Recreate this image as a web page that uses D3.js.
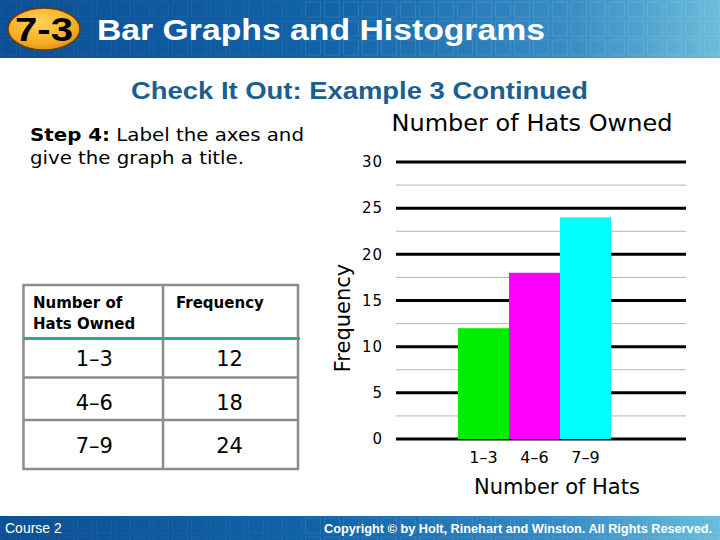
<!DOCTYPE html>
<html>
<head>
<meta charset="utf-8">
<script src="https://cdn.jsdelivr.net/npm/d3@7"></script>
<style>
html,body{margin:0;padding:0;background:#fff;}
svg{display:block;}
</style>
</head>
<body>
<script>
// ---- data ----
const categories = ["1–3", "4–6", "7–9"];
const frequencies = [12, 18, 24];
const barColors = ["#00ee00", "#ff00ff", "#00ffff"];
const yTicks = [0, 5, 10, 15, 20, 25, 30];
const yMinorTicks = [2.5, 7.5, 12.5, 17.5, 22.5, 27.5];
const tableHeaders = [["Number of", "Hats Owned"], ["Frequency"]];

const W = 720, H = 540;
const svg = d3.select("body").append("svg").attr("width", W).attr("height", H);
const defs = svg.append("defs");

// header gradient
const hg = defs.append("linearGradient").attr("id", "hg").attr("x1", "0").attr("x2", "1");
hg.append("stop").attr("offset", "0").attr("stop-color", "#0c4f94");
hg.append("stop").attr("offset", "0.45").attr("stop-color", "#1163a8");
hg.append("stop").attr("offset", "0.8").attr("stop-color", "#3b8fc6");
hg.append("stop").attr("offset", "1").attr("stop-color", "#6bbcd9");
const og = defs.append("radialGradient").attr("id", "og").attr("cx", "0.45").attr("cy", "0.35").attr("r", "0.7");
og.append("stop").attr("offset", "0").attr("stop-color", "#ffd15a");
og.append("stop").attr("offset", "0.7").attr("stop-color", "#f6ad22");
og.append("stop").attr("offset", "1").attr("stop-color", "#d88a10");

function band(y, h) {
  svg.append("rect").attr("x", 0).attr("y", y).attr("width", W).attr("height", h).attr("fill", "url(#hg)");
  const g = svg.append("g");
  for (let x = 0; x < W; x += 19) {
    for (let yy = y + 2; yy < y + h; yy += 19) {
      g.append("rect").attr("x", x + 1.5).attr("y", yy).attr("width", 15).attr("height", 15)
        .attr("fill", "none").attr("stroke", "#ffffff").attr("stroke-opacity", x > 300 ? 0.10 : 0.05);
    }
  }
}
band(0, 58);
band(516, 24);

// header oval + title
svg.append("ellipse").attr("cx", 44).attr("cy", 29).attr("rx", 36).attr("ry", 21)
  .attr("fill", "url(#og)").attr("stroke", "#6b3d00").attr("stroke-width", 1.5);
svg.append("text").attr("x", 44).attr("y", 41).attr("text-anchor", "middle")
  .attr("font-family", "Liberation Sans, Arial, sans-serif").attr("font-weight", "bold")
  .attr("font-size", 33).attr("fill", "#000")
  .attr("textLength", 58).attr("lengthAdjust", "spacingAndGlyphs").text("7-3");
svg.append("text").attr("x", 97).attr("y", 40)
  .attr("font-family", "Liberation Sans, Arial, sans-serif").attr("font-weight", "bold")
  .attr("font-size", 30).attr("fill", "#fff")
  .attr("textLength", 448).attr("lengthAdjust", "spacingAndGlyphs")
  .text("Bar Graphs and Histograms");

// subtitle
svg.append("text").attr("x", 131).attr("y", 99)
  .attr("font-family", "Liberation Sans, Arial, sans-serif").attr("font-weight", "bold")
  .attr("font-size", 23).attr("fill", "#1a5f8f")
  .attr("textLength", 457).attr("lengthAdjust", "spacingAndGlyphs")
  .text("Check It Out: Example 3 Continued");

// step text
const st = svg.append("text").attr("x", 30).attr("y", 141)
  .attr("font-family", "DejaVu Sans, Verdana, sans-serif").attr("font-size", 17).attr("fill", "#000")
  .attr("textLength", 274).attr("lengthAdjust", "spacingAndGlyphs");
st.append("tspan").attr("font-weight", "bold").text("Step 4:");
st.append("tspan").text(" Label the axes and");
svg.append("text").attr("x", 30).attr("y", 164)
  .attr("font-family", "DejaVu Sans, Verdana, sans-serif").attr("font-size", 17).attr("fill", "#000")
  .attr("textLength", 214).attr("lengthAdjust", "spacingAndGlyphs")
  .text("give the graph a title.");

// ---- table ----
const tX0 = 23.5, tX1 = 163, tX2 = 298, tTop = 285, tHead = 338.5;
const rowLines = [377.5, 420];
const tBottom = 469;
const tbl = svg.append("g");
const gray = "#8c8c8c";
tbl.append("rect").attr("x", tX0).attr("y", tTop).attr("width", tX2 - tX0).attr("height", tBottom - tTop)
  .attr("fill", "#fff").attr("stroke", gray).attr("stroke-width", 2.5);
tbl.append("line").attr("x1", tX1).attr("x2", tX1).attr("y1", tTop).attr("y2", tBottom)
  .attr("stroke", gray).attr("stroke-width", 2.5);
rowLines.forEach(y => tbl.append("line").attr("x1", tX0).attr("x2", tX2).attr("y1", y).attr("y2", y)
  .attr("stroke", gray).attr("stroke-width", 2.5));
tbl.append("line").attr("x1", tX0).attr("x2", tX2 + 2).attr("y1", tHead).attr("y2", tHead)
  .attr("stroke", "#2ea88f").attr("stroke-width", 3);
// headers
tableHeaders[0].forEach((t, i) => tbl.append("text").attr("x", 33).attr("y", 308 + i * 21)
  .attr("font-family", "DejaVu Sans, Verdana, sans-serif").attr("font-weight", "bold")
  .attr("font-size", 15).attr("fill", "#000").text(t));
tableHeaders[1].forEach((t, i) => tbl.append("text").attr("x", 176).attr("y", 308 + i * 21)
  .attr("font-family", "DejaVu Sans, Verdana, sans-serif").attr("font-weight", "bold")
  .attr("font-size", 15).attr("fill", "#000").text(t));
const rowBase = [366, 410, 453];
categories.forEach((c, i) => {
  tbl.append("text").attr("x", (tX0 + tX1) / 2 + 1).attr("y", rowBase[i]).attr("text-anchor", "middle")
    .attr("font-family", "DejaVu Sans, Verdana, sans-serif").attr("font-size", 21).attr("fill", "#000").text(c);
  tbl.append("text").attr("x", (tX1 + tX2) / 2 - 1).attr("y", rowBase[i]).attr("text-anchor", "middle")
    .attr("font-family", "DejaVu Sans, Verdana, sans-serif").attr("font-size", 21).attr("fill", "#000").text(frequencies[i]);
});

// ---- chart ----
const y = d3.scaleLinear().domain([0, 30]).range([439, 162]);
const x = d3.scaleBand().domain(categories).range([458, 611]).padding(0);
const gx0 = 396, gx1 = 686;
const chart = svg.append("g");

chart.selectAll("line.minor").data(yMinorTicks).enter().append("line").attr("class", "minor")
  .attr("x1", gx0).attr("x2", gx1).attr("y1", d => y(d)).attr("y2", d => y(d))
  .attr("stroke", "#b4b4b4").attr("stroke-width", 1);
chart.selectAll("line.major").data(yTicks).enter().append("line").attr("class", "major")
  .attr("x1", gx0).attr("x2", gx1).attr("y1", d => y(d)).attr("y2", d => y(d))
  .attr("stroke", "#000").attr("stroke-width", 3);

const yAxis = d3.axisLeft(y).tickValues(yTicks).tickSize(0).tickPadding(0);
const ya = chart.append("g").attr("transform", "translate(383,0)").call(yAxis);
ya.select(".domain").remove();
ya.selectAll("text").attr("font-family", "DejaVu Sans, Verdana, sans-serif").attr("font-size", 15)
  .attr("letter-spacing", 1).attr("fill", "#000");

chart.selectAll("rect.bar").data(frequencies).enter().append("rect").attr("class", "bar")
  .attr("x", (d, i) => x(categories[i])).attr("width", x.bandwidth())
  .attr("y", d => y(d)).attr("height", d => y(0) - y(d))
  .attr("fill", (d, i) => barColors[i]);

const xAxis = d3.axisBottom(x).tickSize(0).tickPadding(0);
const xa = chart.append("g").attr("transform", "translate(0,452)").call(xAxis);
xa.select(".domain").remove();
xa.selectAll("text").attr("font-family", "DejaVu Sans, Verdana, sans-serif").attr("font-size", 16).attr("fill", "#000");

chart.append("text").attr("x", 557).attr("y", 494).attr("text-anchor", "middle")
  .attr("font-family", "DejaVu Sans, Verdana, sans-serif").attr("font-size", 21).attr("fill", "#000")
  .text("Number of Hats");
chart.append("text").attr("transform", "translate(350,318) rotate(-90)").attr("text-anchor", "middle")
  .attr("font-family", "DejaVu Sans, Verdana, sans-serif").attr("font-size", 21).attr("fill", "#000")
  .text("Frequency");
chart.append("text").attr("x", 532).attr("y", 131).attr("text-anchor", "middle")
  .attr("font-family", "DejaVu Sans, Verdana, sans-serif").attr("font-size", 23).attr("fill", "#000")
  .attr("textLength", 281).attr("lengthAdjust", "spacingAndGlyphs")
  .text("Number of Hats Owned");

// footer
svg.append("text").attr("x", 5).attr("y", 533)
  .attr("font-family", "Liberation Sans, Arial, sans-serif").attr("font-size", 14).attr("fill", "#fff")
  .text("Course 2");
svg.append("text").attr("x", 712).attr("y", 533).attr("text-anchor", "end")
  .attr("font-family", "Liberation Sans, Arial, sans-serif").attr("font-weight", "bold")
  .attr("font-size", 13).attr("fill", "#fff")
  .attr("textLength", 388).attr("lengthAdjust", "spacingAndGlyphs")
  .text("Copyright © by Holt, Rinehart and Winston. All Rights Reserved.");
</script>
</body>
</html>
